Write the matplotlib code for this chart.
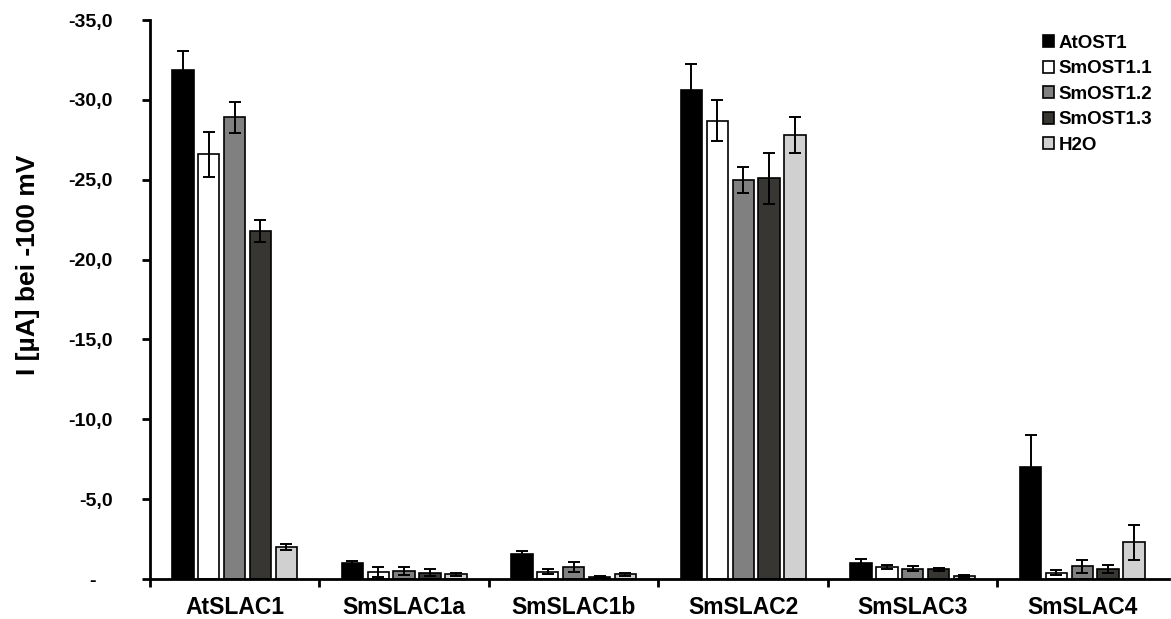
import matplotlib.pyplot as plt
import numpy as np
from matplotlib.ticker import FuncFormatter

plt.rcParams["font.family"] = ["Liberation Sans", "DejaVu Sans"]
plt.rcParams["font.weight"] = "bold"

channels = ["AtSLAC1", "SmSLAC1a", "SmSLAC1b", "SmSLAC2", "SmSLAC3", "SmSLAC4"]
kinases = ["AtOST1", "SmOST1.1", "SmOST1.2", "SmOST1.3", "H2O"]

# mean current at -100 mV (uA), per kinase across channels
atost1 = [-31.9, -1.0, -1.55, -30.6, -1.0, -7.0]
smost1_1 = [-26.6, -0.45, -0.45, -28.7, -0.75, -0.4]
smost1_2 = [-28.9, -0.5, -0.75, -25.0, -0.65, -0.8]
smost1_3 = [-21.8, -0.4, -0.15, -25.1, -0.6, -0.65]
h2o = [-2.0, -0.3, -0.3, -27.8, -0.2, -2.3]

err_atost1 = [1.15, 0.1, 0.2, 1.65, 0.25, 2.0]
err_smost1_1 = [1.4, 0.3, 0.15, 1.3, 0.1, 0.15]
err_smost1_2 = [0.95, 0.25, 0.3, 0.8, 0.15, 0.4]
err_smost1_3 = [0.7, 0.2, 0.05, 1.6, 0.1, 0.25]
err_h2o = [0.2, 0.1, 0.1, 1.15, 0.05, 1.1]

series = [atost1, smost1_1, smost1_2, smost1_3, h2o]
errors = [err_atost1, err_smost1_1, err_smost1_2, err_smost1_3, err_h2o]
colors = ["#000000", "#ffffff", "#808080", "#383633", "#d0d0d0"]

fig = plt.figure(figsize=(11.71, 6.19), dpi=100)
ax = fig.add_axes([0.128, 0.0646, 0.87, 0.903])

x = np.arange(len(channels))
pitch = 0.1525
width = 0.126
for i, (vals, errs, col, name) in enumerate(zip(series, errors, colors, kinases)):
    pos = x + (i - 2) * pitch
    ax.bar(pos, vals, width=width, color=col, edgecolor="black", linewidth=1.2,
           label=name, zorder=2)
    ax.errorbar(pos, vals, yerr=errs, fmt="none", ecolor="black", elinewidth=1.4,
                capsize=4.3, capthick=1.4, zorder=3)

ax.set_xlim(-0.5, len(channels) - 0.5 + 0.01)
ax.set_ylim(0, -35)
ax.set_yticks(np.arange(0, -36, -5))
ax.yaxis.set_major_formatter(FuncFormatter(
    lambda v, _: "-   " if abs(v) < 1e-9 else f"{v:.1f}".replace(".", ",")))
ax.set_xticks(x)
ax.set_xticklabels(channels, fontsize=16.5, fontweight="bold")
ax.set_xticks(np.arange(len(channels)) - 0.5, minor=True)
ax.tick_params(axis="x", which="major", length=0, pad=12)
ax.tick_params(axis="x", which="minor", length=6, width=2, direction="out")
ax.tick_params(axis="y", length=6, width=2, direction="out", labelsize=14, pad=21)
for lbl in ax.get_yticklabels():
    lbl.set_fontweight("bold")

for side in ["top", "right"]:
    ax.spines[side].set_visible(False)
for side in ["left", "bottom"]:
    ax.spines[side].set_linewidth(2)

ax.set_ylabel("I [µA] bei -100 mV", fontsize=19, fontweight="bold")
ax.yaxis.set_label_coords(-0.108, 0.563)

leg = fig.legend(loc="upper left", bbox_to_anchor=(0.8907, 0.9435), frameon=False,
                 fontsize=13.5, handlelength=0.6, handleheight=0.6, handletextpad=0.25,
                 labelspacing=0.45, borderpad=0, borderaxespad=0)
for t in leg.get_texts():
    t.set_fontweight("bold")

fig.savefig("out.png", dpi=100)
